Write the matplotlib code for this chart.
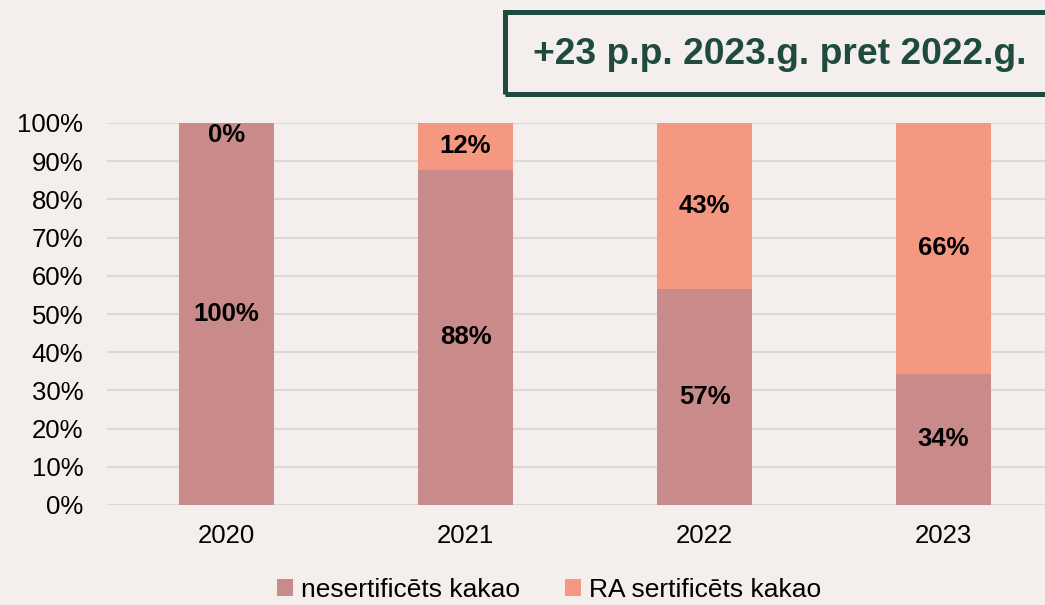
import matplotlib.pyplot as plt
from matplotlib.patches import Rectangle

plt.rcParams['font.family'] = ['Liberation Sans', 'DejaVu Sans']

years = ["2020", "2021", "2022", "2023"]
nesert = [100.0, 87.7, 56.6, 34.4]
ra_sert = [0.0, 12.3, 43.4, 65.6]
series_names = ["nesertificēts kakao", "RA sertificēts kakao"]
note = "+23 p.p. 2023.g. pret 2022.g."

bg = "#F4EFED"
c_nesert = "#C98A8A"
c_ra = "#F49882"
dark_green = "#1E4A3F"

fig = plt.figure(figsize=(10.45, 6.05), dpi=100, facecolor=bg)
W, H = 1045, 605
ax = fig.add_axes([107 / W, 1 - 505 / H, 1 - 107 / W, (505 - 123) / H])
ax.set_facecolor(bg)

x = list(range(len(years)))
w = 0.40
b1 = ax.bar(x, nesert, width=w, color=c_nesert, label=series_names[0], zorder=3)
b2 = ax.bar(x, ra_sert, width=w, bottom=nesert, color=c_ra, label=series_names[1], zorder=3)

# segment labels
for i in x:
    ax.text(i, nesert[i] / 2, f"{nesert[i]:.0f}%", ha="center", va="center",
            fontsize=18.5, fontweight="bold", color="black", zorder=4)
    if ra_sert[i] > 0:
        ax.text(i, nesert[i] + ra_sert[i] / 2, f"{ra_sert[i]:.0f}%", ha="center", va="center",
                fontsize=18.5, fontweight="bold", color="black", zorder=4)
    else:
        ax.text(i, 100, f"{ra_sert[i]:.0f}%", ha="center", va="top",
                fontsize=18.5, fontweight="bold", color="black", zorder=4)

ax.set_xlim(-0.5, -0.5 + (W - 107) / 239)
ax.set_ylim(0, 100)
ax.set_yticks(range(0, 101, 10))
ax.set_yticklabels([f"{v}%" for v in range(0, 101, 10)])
ax.set_xticks(x)
ax.set_xticklabels(years)
ax.tick_params(axis="y", length=0, pad=17, labelsize=18.5)
ax.tick_params(axis="x", length=0, pad=14, labelsize=18.5)
ax.yaxis.grid(True, color="#D9D9D9", linewidth=1.5, zorder=0)
ax.set_axisbelow(True)
for s in ax.spines.values():
    s.set_visible(False)

leg = fig.legend(handles=[b1, b2], loc="center", bbox_to_anchor=(549 / W, 1 - 590 / H),
                 ncol=2, frameon=False, fontsize=19, handlelength=0.6, handleheight=0.6,
                 handletextpad=0.3, columnspacing=1.7, borderpad=0)

# note box
fig.patches.append(Rectangle((505 / W, 1 - 94 / H), (W - 505 + 10) / W, 82 / H,
                             transform=fig.transFigure, fill=False,
                             edgecolor=dark_green, linewidth=3.6, clip_on=False))
fig.text(780 / W, 1 - 55 / H, note, ha="center", va="center", fontsize=26.8,
         fontweight="bold", color=dark_green)

fig.savefig("out.png", dpi=100, facecolor=bg)
